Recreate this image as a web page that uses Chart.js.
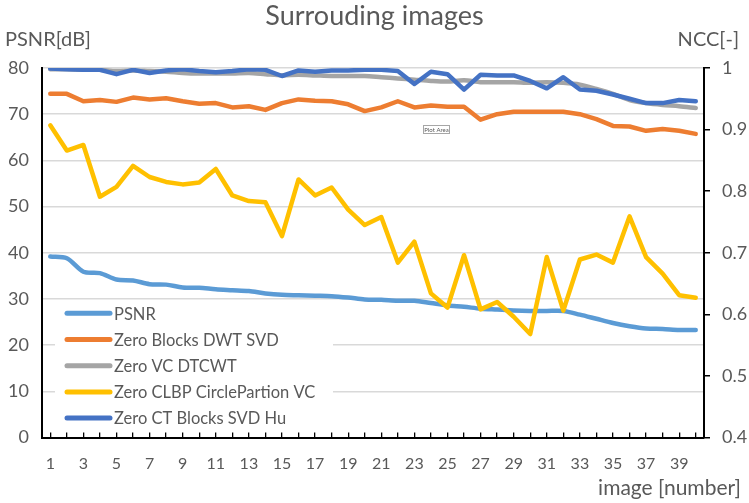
<!DOCTYPE html>
<html lang="en">
<head>
  <meta charset="UTF-8" />
  <title>Surrouding images</title>
  <script src="https://cdn.jsdelivr.net/npm/chart.js"></script>
  <style>
    body { margin: 0; background: #ffffff; }
    #wrap { width: 749px; height: 503px; }
  </style>
</head>
<body>
  <div id="wrap"><canvas id="ncc" width="749" height="503"></canvas></div>

  <script>
    // image numbers on the x axis
    const imageNumbers = ['1','2','3','4','5','6','7','8','9','10',
      '11','12','13','14','15','16','17','18','19','20',
      '21','22','23','24','25','26','27','28','29','30',
      '31','32','33','34','35','36','37','38','39','40'];

    // PSNR [dB], left axis
    const psnr = [39.2, 38.8, 35.9, 35.6, 34.2, 34.0, 33.2, 33.1, 32.5, 32.4,
      32.1, 31.9, 31.7, 31.2, 30.9, 30.8, 30.7, 30.6, 30.3, 29.9,
      29.8, 29.6, 29.6, 29.1, 28.6, 28.3, 27.9, 27.7, 27.5, 27.4,
      27.4, 27.4, 26.6, 25.7, 24.8, 24.1, 23.6, 23.5, 23.3, 23.3];

    // NCC [-], right axis
    const blocksDwtSvd = [0.958, 0.958, 0.946, 0.948, 0.945, 0.952, 0.949, 0.951, 0.946, 0.942,
      0.943, 0.936, 0.938, 0.932, 0.943, 0.949, 0.947, 0.946, 0.941, 0.930,
      0.936, 0.946, 0.936, 0.939, 0.937, 0.937, 0.916, 0.925, 0.929, 0.929,
      0.929, 0.929, 0.925, 0.917, 0.906, 0.905, 0.898, 0.901, 0.898, 0.893];

    const vcDtcwt = [0.998, 0.998, 0.997, 0.997, 0.995, 0.996, 0.995, 0.994, 0.992, 0.991,
      0.991, 0.991, 0.992, 0.990, 0.988, 0.989, 0.988, 0.987, 0.987, 0.987,
      0.985, 0.983, 0.981, 0.979, 0.978, 0.980, 0.977, 0.977, 0.977, 0.976,
      0.977, 0.976, 0.973, 0.966, 0.958, 0.948, 0.943, 0.940, 0.938, 0.935];

    const clbpCirclePartion = [0.907, 0.866, 0.875, 0.791, 0.807, 0.841, 0.823, 0.815, 0.811, 0.814,
      0.836, 0.793, 0.784, 0.782, 0.727, 0.819, 0.793, 0.806, 0.770, 0.745,
      0.758, 0.684, 0.718, 0.634, 0.611, 0.696, 0.608, 0.620, 0.596, 0.568,
      0.693, 0.606, 0.689, 0.697, 0.684, 0.759, 0.693, 0.666, 0.631, 0.627];

    const ctBlocksSvdHu = [0.999, 0.998, 0.997, 0.997, 0.990, 0.997, 0.992, 0.996, 0.998, 0.995,
      0.993, 0.995, 0.998, 0.997, 0.987, 0.996, 0.994, 0.996, 0.996, 0.997,
      0.997, 0.995, 0.974, 0.994, 0.990, 0.965, 0.989, 0.988, 0.988, 0.979,
      0.967, 0.985, 0.965, 0.963, 0.957, 0.950, 0.943, 0.943, 0.948, 0.946];

    const FONT = 'Lato, "Liberation Sans", sans-serif';
    const GREY_TEXT = '#595959';

    function series(label, data, color, axis, order, tension) {
      return {
        label: label,
        data: data,
        yAxisID: axis,
        borderColor: color,
        backgroundColor: color,
        borderWidth: 4.5,
        pointRadius: 0,
        pointHoverRadius: 0,
        borderCapStyle: 'round',
        borderJoinStyle: 'round',
        tension: tension,
        fill: false,
        order: order
      };
    }

    // axis captions, the Excel "Plot Area" tag and the legend inside the plot
    const extras = {
      id: 'extras',
      afterDraw(chart) {
        const ctx = chart.ctx;
        const area = chart.chartArea;
        ctx.save();
        ctx.fillStyle = GREY_TEXT;
        ctx.textBaseline = 'middle';
        ctx.font = '20px ' + FONT;
        ctx.textAlign = 'left';
        ctx.fillText('PSNR[dB]', 5, 40);
        ctx.textAlign = 'right';
        ctx.fillText('NCC[-]', 739, 40);
        ctx.font = '21px ' + FONT;
        ctx.fillText('image [number]', 741, 488);

        // tiny "Plot Area" hover tag
        ctx.fillStyle = '#ffffff';
        ctx.fillRect(423, 125, 26, 8);
        ctx.strokeStyle = '#a6a6a6';
        ctx.lineWidth = 1;
        ctx.strokeRect(423.5, 125.5, 26, 8);
        ctx.fillStyle = GREY_TEXT;
        ctx.font = '6px ' + FONT;
        ctx.textAlign = 'center';
        ctx.fillText('Plot Area', 436.5, 129.8);

        // legend
        const sets = chart.data.datasets;
        const boxLeft = 55, boxTop = 301, rowH = 26.2;
        ctx.fillStyle = '#ffffff';
        ctx.fillRect(boxLeft, boxTop, 278, area.bottom - 6 - boxTop);
        ctx.font = '16.5px ' + FONT;
        ctx.textAlign = 'left';
        sets.forEach((ds, i) => {
          const y = 313.3 + i * rowH;
          ctx.strokeStyle = ds.borderColor;
          ctx.lineWidth = 5;
          ctx.lineCap = 'round';
          ctx.beginPath();
          ctx.moveTo(67, y);
          ctx.lineTo(110, y);
          ctx.stroke();
          ctx.fillStyle = GREY_TEXT;
          ctx.fillText(ds.label, 114, y + 1);
        });
        ctx.restore();
      }
    };

    new Chart(document.getElementById('ncc'), {
      type: 'line',
      data: {
        labels: imageNumbers,
        datasets: [
          series('PSNR', psnr, '#5B9BD5', 'yPsnr', 5, 0.3),
          series('Zero Blocks DWT SVD', blocksDwtSvd, '#ED7D31', 'yNcc', 4, 0),
          series('Zero VC DTCWT', vcDtcwt, '#A5A5A5', 'yNcc', 3, 0.3),
          series('Zero CLBP CirclePartion VC', clbpCirclePartion, '#FFC000', 'yNcc', 2, 0),
          series('Zero CT Blocks SVD Hu', ctBlocksSvdHu, '#4472C4', 'yNcc', 1, 0)
        ]
      },
      options: {
        responsive: false,
        animation: false,
        devicePixelRatio: 1,
        layout: { padding: 0 },
        plugins: {
          legend: { display: false },
          tooltip: { enabled: false },
          title: {
            display: true,
            text: 'Surrouding images',
            color: GREY_TEXT,
            font: { family: FONT, size: 27, weight: 'normal', lineHeight: 1.2 },
            padding: { top: 0, bottom: 35.6 }
          }
        },
        scales: {
          x: {
            type: 'category',
            offset: true,
            afterFit: s => { s.height = 65.5; },
            grid: {
              offset: false,
              drawOnChartArea: false,
              drawTicks: true,
              tickLength: -5,
              color: '#000000',
              lineWidth: 1.3
            },
            border: { display: true, color: '#000000', width: 2 },
            ticks: {
              autoSkip: false,
              maxRotation: 0,
              padding: 22,
              color: GREY_TEXT,
              font: { family: FONT, size: 16 },
              callback: function (val, index) {
                return index % 2 === 0 ? this.getLabelForValue(val) : '';
              }
            }
          },
          yPsnr: {
            position: 'left',
            min: 0,
            max: 80,
            afterFit: s => { s.width = 42; },
            grid: {
              drawTicks: false,
              lineWidth: 1.5,
              color: c => (c.tick && c.tick.value === 0 ? 'rgba(0,0,0,0)' : '#d9d9d9')
            },
            border: { display: true, color: '#000000', width: 2 },
            ticks: {
              stepSize: 10,
              padding: 13,
              color: GREY_TEXT,
              font: { family: FONT, size: 18 }
            }
          },
          yNcc: {
            position: 'right',
            min: 0.4,
            max: 1,
            afterFit: s => { s.width = 45; },
            grid: {
              drawOnChartArea: false,
              drawTicks: true,
              tickLength: 6,
              color: '#000000',
              lineWidth: 1.5
            },
            border: { display: true, color: '#000000', width: 2 },
            ticks: {
              stepSize: 0.1,
              padding: 12,
              color: GREY_TEXT,
              font: { family: FONT, size: 18 },
              callback: v => String(Number(v.toFixed(1)))
            }
          }
        }
      },
      plugins: [extras]
    });
  </script>
</body>
</html>
